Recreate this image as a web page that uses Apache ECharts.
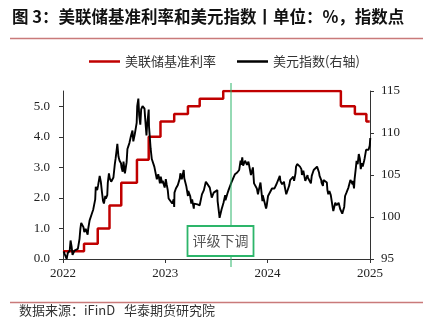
<!DOCTYPE html>
<html>
<head>
<meta charset="utf-8">
<script src="https://cdn.jsdelivr.net/npm/echarts@6/dist/echarts.min.js"></script>
<style>
html,body{margin:0;padding:0;background:#fff;}
#c{width:435px;height:326px;}
</style>
</head>
<body>
<div id="c"></div>
<script>
// Fed funds target rate (upper bound, %), effective dates of each change
const rateDates = ['2022-01-01','2022-03-17','2022-05-05','2022-06-16','2022-07-28','2022-09-22','2022-11-03','2022-12-15',
  '2023-02-02','2023-03-23','2023-05-04','2023-07-27','2024-09-19','2024-11-08','2024-12-19','2024-12-31'];
const rateValues = [0.25,0.5,1.0,1.75,2.5,3.25,4.0,4.5,4.75,5.0,5.25,5.5,5.0,4.75,4.5,4.5];

// US dollar index (right axis)
const dxyDates = [
  '2022-01-03','2022-01-07','2022-01-10','2022-01-14','2022-01-18','2022-01-21','2022-01-25','2022-01-28',
  '2022-02-01','2022-02-04','2022-02-08','2022-02-11','2022-02-15','2022-02-18','2022-02-23','2022-02-25',
  '2022-03-01','2022-03-04','2022-03-07','2022-03-11','2022-03-15','2022-03-18','2022-03-23','2022-03-25','2022-03-30',
  '2022-04-01','2022-04-06','2022-04-08','2022-04-13','2022-04-19','2022-04-22','2022-04-26','2022-04-28',
  '2022-05-03','2022-05-06','2022-05-10','2022-05-12','2022-05-16','2022-05-20','2022-05-24','2022-05-27',
  '2022-06-01','2022-06-03','2022-06-08','2022-06-10','2022-06-14','2022-06-17','2022-06-22','2022-06-24','2022-06-30',
  '2022-07-05','2022-07-08','2022-07-12','2022-07-14','2022-07-18','2022-07-22','2022-07-27','2022-07-29',
  '2022-08-02','2022-08-05','2022-08-10','2022-08-12','2022-08-16','2022-08-19','2022-08-23','2022-08-26',
  '2022-09-01','2022-09-06','2022-09-09','2022-09-14','2022-09-16','2022-09-21','2022-09-23','2022-09-27','2022-09-30',
  '2022-10-04','2022-10-07','2022-10-12','2022-10-14','2022-10-19','2022-10-21','2022-10-26','2022-10-28',
  '2022-11-03','2022-11-04','2022-11-10','2022-11-14','2022-11-18','2022-11-23','2022-11-25','2022-11-30',
  '2022-12-02','2022-12-07','2022-12-09','2022-12-13','2022-12-16','2022-12-21','2022-12-23','2022-12-30',
  '2023-01-03','2023-01-06','2023-01-10','2023-01-13','2023-01-18','2023-01-20','2023-01-26','2023-01-31',
  '2023-02-02','2023-02-03','2023-02-08','2023-02-10','2023-02-15','2023-02-17','2023-02-22','2023-02-24',
  '2023-03-01','2023-03-08','2023-03-10','2023-03-15','2023-03-17','2023-03-23','2023-03-24','2023-03-31',
  '2023-04-04','2023-04-07','2023-04-13','2023-04-14','2023-04-21','2023-04-26','2023-04-28',
  '2023-05-04','2023-05-05','2023-05-10','2023-05-12','2023-05-19','2023-05-26','2023-05-31',
  '2023-06-02','2023-06-09','2023-06-13','2023-06-16','2023-06-21','2023-06-23','2023-06-30',
  '2023-07-06','2023-07-07','2023-07-12','2023-07-14','2023-07-18','2023-07-21','2023-07-26','2023-07-28',
  '2023-08-03','2023-08-04','2023-08-11','2023-08-15','2023-08-18','2023-08-25',
  '2023-09-01','2023-09-07','2023-09-08','2023-09-15','2023-09-22','2023-09-27','2023-09-29',
  '2023-10-03','2023-10-06','2023-10-13','2023-10-20','2023-10-25','2023-10-27',
  '2023-11-03','2023-11-10','2023-11-14','2023-11-17','2023-11-24','2023-11-28',
  '2023-12-01','2023-12-07','2023-12-08','2023-12-14','2023-12-15','2023-12-22','2023-12-27','2023-12-29',
  '2024-01-03','2024-01-05','2024-01-10','2024-01-12','2024-01-17','2024-01-19','2024-01-24','2024-01-26','2024-01-31',
  '2024-02-02','2024-02-07','2024-02-09','2024-02-14','2024-02-16','2024-02-22','2024-02-23','2024-02-29',
  '2024-03-01','2024-03-08','2024-03-12','2024-03-15','2024-03-19','2024-03-22','2024-03-28',
  '2024-04-02','2024-04-05','2024-04-10','2024-04-12','2024-04-16','2024-04-19','2024-04-26',
  '2024-05-01','2024-05-03','2024-05-08','2024-05-10','2024-05-15','2024-05-17','2024-05-23','2024-05-24','2024-05-31',
  '2024-06-04','2024-06-07','2024-06-11','2024-06-14','2024-06-20','2024-06-26','2024-06-28',
  '2024-07-03','2024-07-05','2024-07-11','2024-07-12','2024-07-17','2024-07-19','2024-07-26','2024-07-31',
  '2024-08-02','2024-08-05','2024-08-09','2024-08-14','2024-08-16','2024-08-21','2024-08-23','2024-08-27','2024-08-30',
  '2024-09-04','2024-09-06','2024-09-11','2024-09-17','2024-09-20','2024-09-24','2024-09-27',
  '2024-10-01','2024-10-04','2024-10-09','2024-10-11','2024-10-16','2024-10-18','2024-10-23','2024-10-25','2024-10-31',
  '2024-11-01','2024-11-05','2024-11-07','2024-11-12','2024-11-14','2024-11-18','2024-11-22','2024-11-26','2024-11-29',
  '2024-12-03','2024-12-06','2024-12-11','2024-12-13','2024-12-18','2024-12-20','2024-12-24','2024-12-27','2024-12-31',
  '2025-01-02'
];
const dxyValues = [
  95.9,95.7,95.9,95.0,95.7,95.6,96.0,97.2,
  96.4,95.5,95.6,96.0,95.9,96.0,96.2,96.6,
  97.4,98.6,99.3,99.1,98.8,98.2,98.6,98.8,97.9,
  98.6,99.6,99.8,100.3,100.9,101.1,102.1,103.6,
  103.2,103.7,103.9,104.9,104.2,103.0,101.9,101.6,
  102.5,102.2,102.6,104.1,105.2,104.6,104.2,104.0,104.7,
  106.3,107.0,108.1,108.7,107.2,106.7,106.4,105.9,
  105.4,106.6,105.2,105.6,106.5,108.1,108.5,108.8,
  109.7,110.3,109.0,109.8,109.8,111.2,113.2,114.1,112.1,
  111.0,112.8,113.2,113.3,112.9,111.9,109.7,110.8,
  112.8,110.8,108.1,106.9,106.9,106.0,106.0,105.9,
  104.5,105.1,104.8,104.0,104.8,104.0,104.3,103.5,
  104.5,103.9,103.2,102.2,102.4,102.0,101.6,102.1,
  101.2,102.9,103.4,103.6,103.8,103.9,104.6,105.2,
  104.5,105.6,104.6,104.6,103.7,102.5,103.1,102.5,
  101.6,102.1,101.0,101.6,101.8,101.5,101.7,
  101.4,101.2,101.5,102.7,103.2,104.2,104.3,
  104.0,103.5,103.3,102.3,102.1,102.9,102.9,
  103.2,101.9,100.5,99.9,99.8,100.9,100.9,101.7,
  102.6,102.0,102.8,103.2,103.4,104.1,
  104.2,105.1,105.0,105.3,105.6,106.7,106.2,
  107.1,106.1,106.7,106.2,106.6,106.6,
  105.0,105.9,104.0,103.9,103.4,102.7,
  103.2,104.1,104.0,101.9,102.6,101.7,101.0,101.3,
  102.5,102.4,102.4,102.4,103.4,103.3,103.2,103.4,103.3,
  103.9,104.1,104.1,104.9,104.3,103.9,103.9,104.2,
  103.9,102.7,102.9,103.4,103.8,104.4,104.5,
  104.8,104.3,105.2,106.0,106.3,106.1,106.0,
  105.7,105.0,105.5,105.3,104.3,104.5,105.0,104.7,104.6,
  104.0,104.9,105.3,105.6,105.6,106.0,105.9,
  105.3,104.9,104.4,104.1,103.7,104.4,104.3,104.1,
  103.2,102.7,103.1,102.6,102.4,101.1,100.7,100.5,101.7,
  101.4,101.2,101.7,100.9,100.7,100.4,100.4,
  101.2,102.5,102.9,102.9,103.5,103.5,104.4,104.3,103.9,
  104.3,103.4,104.5,106.0,106.7,106.3,107.5,106.9,105.7,
  106.4,106.0,106.7,107.0,108.0,107.8,108.1,108.0,108.5,
  109.4
];

// Axis ticks and labels
const yearTicks = ['2022-01-01','2023-01-01','2024-01-01','2025-01-01'];
const leftTicks = [0,1,2,3,4,5];
const rightTicks = [95,100,105,110,115];

// Annotation
const downgradeDate = '2023-08-22';
const downgradeLabel = '评级下调';

const titleText = '图 3：美联储基准利率和美元指数丨单位：%，指数点';
const sourceText = '数据来源：iFinD   华泰期货研究院';
const rateName = '美联储基准利率';
const dxyName = '美元指数(右轴)';

const parse = s => +echarts.time.parse(s);
const serif = 'Liberation Serif, Times New Roman, serif';
const cjk = 'Noto Sans CJK SC, sans-serif';

const chart = echarts.init(document.getElementById('c'), null, {renderer: 'canvas'});

const yearValues = yearTicks.map(parse);

chart.setOption({
  animation: false,
  backgroundColor: '#fff',
  title: {
    text: titleText,
    left: 7, top: 3,
    textStyle: {fontFamily: cjk, fontSize: 16.5, fontWeight: 'bold', color: '#111'}
  },
  legend: {
    left: 84, top: 50,
    icon: 'rect',
    itemWidth: 31, itemHeight: 2.5, itemGap: 21,
    textStyle: {fontFamily: cjk, fontSize: 13, color: '#333'},
    data: [rateName, dxyName]
  },
  grid: {left: 63, right: 65, top: 91, bottom: 67},
  xAxis: {
    type: 'value',
    min: yearValues[0],
    max: yearValues[yearValues.length - 1],
    splitLine: {show: false},
    axisLine: {lineStyle: {color: '#333', width: 1}},
    axisTick: {show: true, length: 4, lineStyle: {color: '#333'}, customValues: yearValues},
    axisLabel: {
      customValues: yearValues,
      formatter: v => String(new Date(v).getFullYear()),
      fontFamily: serif, fontSize: 13, color: '#222', margin: 8
    }
  },
  yAxis: [
    {
      type: 'value', min: 0, max: 5.5, position: 'left',
      splitLine: {show: false},
      axisLine: {show: true, lineStyle: {color: '#333'}},
      axisTick: {show: true, length: 4, lineStyle: {color: '#333'}, customValues: leftTicks},
      axisLabel: {customValues: leftTicks, formatter: v => v.toFixed(1), fontFamily: serif, fontSize: 13, color: '#222', margin: 13}
    },
    {
      type: 'value', min: 95, max: 115, position: 'right',
      splitLine: {show: false},
      axisLine: {show: true, lineStyle: {color: '#333'}},
      axisTick: {show: true, length: 4, lineStyle: {color: '#333'}, customValues: rightTicks},
      axisLabel: {customValues: rightTicks, fontFamily: serif, fontSize: 13, color: '#222', margin: 11}
    }
  ],
  series: [
    {
      name: rateName, type: 'line', yAxisIndex: 0, step: 'end', symbol: 'none',
      lineStyle: {color: '#c00000', width: 2.5}, itemStyle: {color: '#c00000'},
      data: rateDates.map((d, i) => [parse(d), rateValues[i]]),
      z: 2
    },
    {
      name: dxyName, type: 'line', yAxisIndex: 1, symbol: 'none',
      lineStyle: {color: '#000', width: 1.9}, itemStyle: {color: '#000'},
      data: dxyDates.map((d, i) => [parse(d), dxyValues[i]]),
      z: 3
    }
  ]
});

// Rule lines, downgrade marker and source note
const gx = chart.convertToPixel({xAxisIndex: 0}, parse(downgradeDate));
const green = '#2db56a';
const rule = '#c97a7a';
chart.setOption({
  graphic: [
    {type: 'line', shape: {x1: 10, y1: 38.5, x2: 423, y2: 38.5}, style: {stroke: rule, lineWidth: 1.5}},
    {type: 'line', shape: {x1: 10, y1: 302.5, x2: 423, y2: 302.5}, style: {stroke: rule, lineWidth: 1.5}},
    {type: 'text', left: 19, top: 304, style: {text: sourceText, font: '13px ' + cjk, fill: '#333'}},
    {type: 'line', z: 10, shape: {x1: gx + 0.5, y1: 83, x2: gx + 0.5, y2: 267}, style: {stroke: green, lineWidth: 1}},
    {type: 'rect', z: 11, shape: {x: gx - 43, y: 226, width: 66, height: 30},
      style: {fill: '#fff', stroke: green, lineWidth: 1.8}},
    {type: 'text', z: 12, x: gx - 10, y: 241,
      style: {text: downgradeLabel, font: '14px ' + cjk, fill: '#555', align: 'center', verticalAlign: 'middle'}}
  ]
});
</script>
</body>
</html>
